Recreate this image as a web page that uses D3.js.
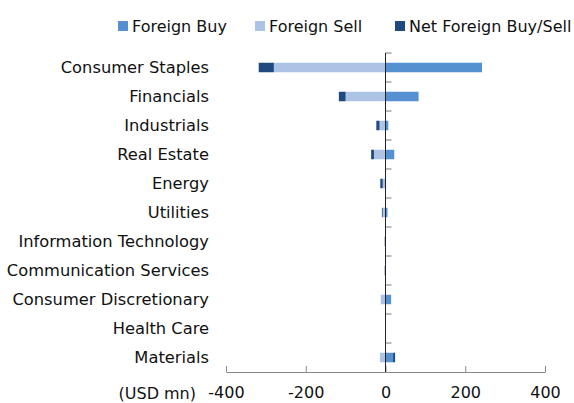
<!DOCTYPE html>
<html>
<head>
<meta charset="utf-8">
<script src="https://cdn.jsdelivr.net/npm/d3@7"></script>
<style>
  body { margin: 0; background: #fff; }
  text { font-family: "DejaVu Sans", Verdana, sans-serif; fill: #111; }
</style>
</head>
<body>
<div id="chart"></div>
<script>
const categories = ["Consumer Staples", "Financials", "Industrials", "Real Estate", "Energy", "Utilities",
  "Information Technology", "Communication Services", "Consumer Discretionary", "Health Care", "Materials"];
const foreignBuy = [242, 83, 7, 22, 1, 5, 0, 0, 13, 0, 19];
const foreignSell = [-280, -100, -15, -29, -7, -7, -1, -1, -12, 0, -14];
const netBuySell = [-38, -17, -8, -7, -6, -2, -1, -1, 1, 0, 5];
const xTicks = [-400, -200, 0, 200, 400];

const seriesKeys = ["Foreign Buy", "Foreign Sell", "Net Foreign Buy/Sell"];
const colors = ["#5591d1", "#adc3e6", "#1f4a80"];

const width = 574, height = 403;
const fontSize = 16.3;
const svg = d3.select("#chart").append("svg")
  .attr("width", width).attr("height", height);

const rows = categories.map((c, i) => ({
  cat: c,
  "Foreign Buy": foreignBuy[i],
  "Foreign Sell": foreignSell[i],
  "Net Foreign Buy/Sell": netBuySell[i]
}));

const x = d3.scaleLinear().domain([-400, 400]).range([226, 545]);
const y = d3.scaleBand().domain(categories).range([53, 372]);
const barH = 9.5;

const stacked = d3.stack().keys(seriesKeys).offset(d3.stackOffsetDiverging)(rows);

svg.append("g").selectAll("g")
  .data(stacked)
  .join("g")
  .attr("fill", (d, i) => colors[i])
  .selectAll("rect")
  .data(d => d)
  .join("rect")
  .attr("x", d => x(Math.min(d[0], d[1])))
  .attr("width", d => Math.abs(x(d[1]) - x(d[0])))
  .attr("y", d => y(d.data.cat) + y.bandwidth() / 2 - barH / 2)
  .attr("height", barH);

// x axis
const xAxis = svg.append("g")
  .attr("transform", "translate(0,372)")
  .call(d3.axisBottom(x).tickValues(xTicks).tickFormat(d => String(d))
    .tickSize(-6).tickPadding(15).tickSizeOuter(0));
xAxis.select(".domain").attr("stroke", "#888");
xAxis.selectAll(".tick line").attr("stroke", "#888");
xAxis.selectAll("text").attr("font-size", 16).attr("font-family", "DejaVu Sans, Verdana, sans-serif").attr("fill", "#111");

svg.append("text")
  .attr("x", 196).attr("y", 398.5)
  .attr("text-anchor", "end")
  .attr("font-size", 16)
  .text("(USD mn)");

// vertical axis at zero
const bounds = categories.map(c => y(c));
svg.append("g").selectAll("line")
  .data(bounds)
  .join("line")
  .attr("x1", x(0)).attr("x2", x(0) + 6)
  .attr("y1", d => d).attr("y2", d => d)
  .attr("stroke", "#777").attr("stroke-width", 1);
svg.append("line")
  .attr("x1", x(0)).attr("x2", x(0))
  .attr("y1", y.range()[0]).attr("y2", y.range()[1])
  .attr("stroke", "#222").attr("stroke-width", 1);

// category labels
svg.append("g").selectAll("text")
  .data(categories)
  .join("text")
  .attr("x", 209)
  .attr("y", d => y(d) + y.bandwidth() / 2)
  .attr("dy", "0.36em")
  .attr("text-anchor", "end")
  .attr("font-size", fontSize)
  .text(d => d);

// legend
const legendX = [118, 255, 395];
const legend = svg.append("g").selectAll("g")
  .data(seriesKeys)
  .join("g")
  .attr("transform", (d, i) => `translate(${legendX[i]},21)`);
legend.append("rect").attr("width", 10).attr("height", 10).attr("fill", (d, i) => colors[i]);
legend.append("text").attr("x", 14).attr("y", 5).attr("dy", "0.36em")
  .attr("font-size", 16).text(d => d);
</script>
</body>
</html>
